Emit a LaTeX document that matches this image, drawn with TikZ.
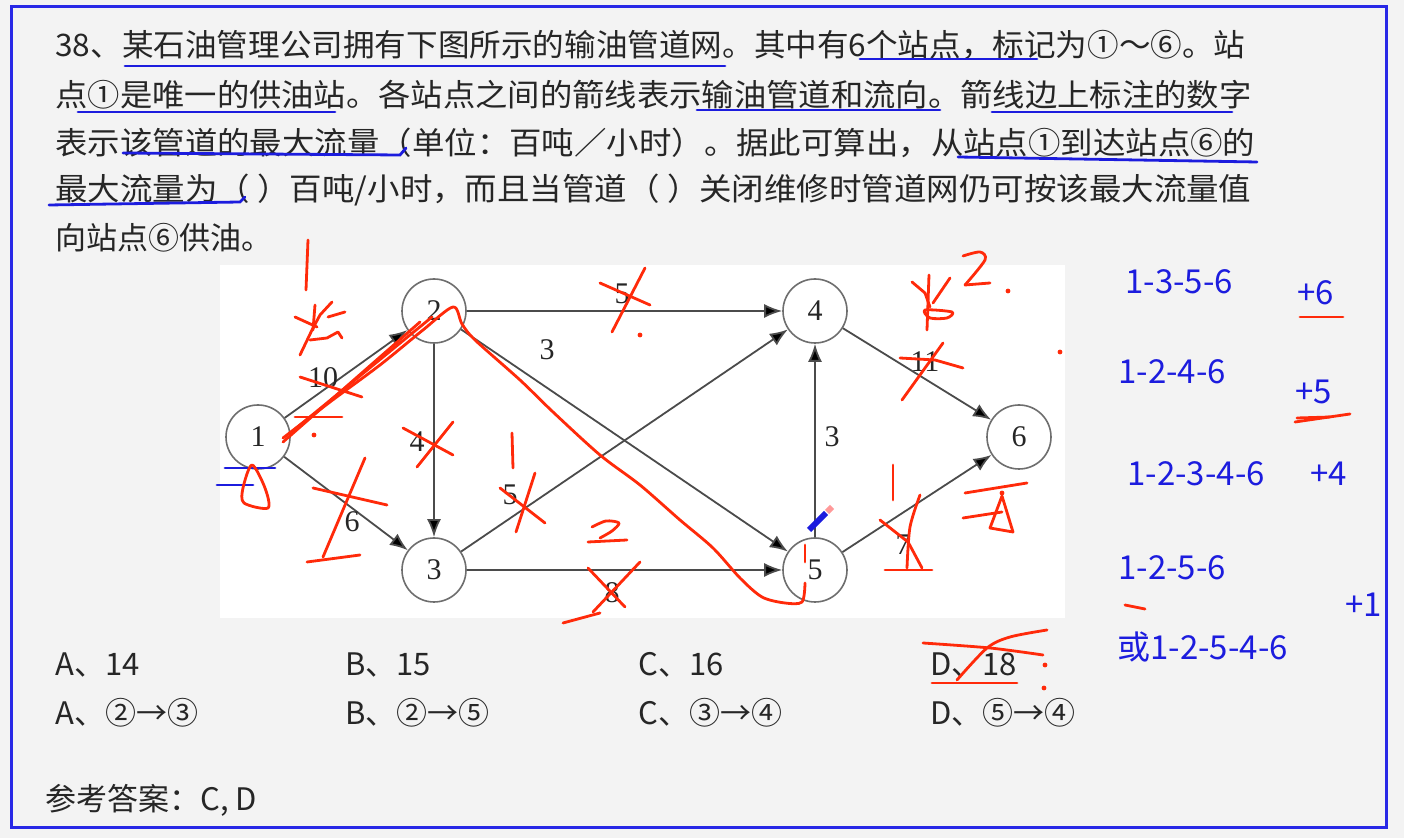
\documentclass[tikz,border=0pt]{standalone}
\usepackage{fontspec}
\usepackage{graphicx}
\setmainfont{Noto Sans CJK SC}
\newfontfamily\graphfont{Liberation Serif}
\usetikzlibrary{positioning, arrows.meta, calc}
\definecolor{cInk}{RGB}{38,38,38}
\definecolor{cPipe}{RGB}{75,75,75}
\definecolor{cRing}{RGB}{110,110,110}
\definecolor{cPaper}{RGB}{243,243,243}
\definecolor{cFrame}{RGB}{40,40,230}
\definecolor{cPen}{RGB}{255,42,10}
\definecolor{cMark}{RGB}{28,28,222}
\newcommand{\qrow}[2]{\resizebox{#1}{\height}{#2}}

\begin{document}
\begin{tikzpicture}[x=0.5pt, y=-0.5pt, >={Latex[length=9pt,width=7pt]},
  stn/.style={circle, draw=cRing, line width=0.8pt, fill=white, minimum size=32pt,
    inner sep=0pt, font=\graphfont\fontsize{15pt}{17pt}\selectfont, text=cInk},
  pipe/.style={draw=cPipe, line width=0.9pt, ->},
  wlbl/.style={inner sep=0pt, font=\graphfont\fontsize{15pt}{17pt}\selectfont, text=cInk},
  qline/.style={anchor=west, inner sep=0pt, font=\fontsize{15.5pt}{18pt}\selectfont, text=cInk},
  note/.style={anchor=west, inner sep=0pt, font=\fontsize{16.5pt}{19pt}\selectfont, text=cMark},
  pen/.style={draw=cPen, line width=1.4pt, line cap=round, line join=round},
  ublue/.style={draw=cMark, line width=1.4pt, line cap=round}]
   \useasboundingbox (0,0) rectangle (1404,838);
   \fill[cPaper] (0,0) rectangle (1404,838);
   \draw[cFrame, line width=1.5pt] (11,7) rectangle (1386,828);

   % Question text
   \node[qline] (q1) at (55,45) {\qrow{595pt}{38、某石油管理公司拥有下图所示的输油管道网。其中有6个站点，标记为①～⑥。站}};
   \node[qline] (q2) at (55,95) {\qrow{598pt}{点①是唯一的供油站。各站点之间的箭线表示输油管道和流向。箭线边上标注的数字}};
   \node[qline] (q3) at (55,143) {\qrow{600pt}{表示该管道的最大流量（单位：百吨／小时）。据此可算出，从站点①到达站点⑥的}};
   \node[qline] (q4) at (55,190) {\qrow{598pt}{最大流量为（ ）百吨/小时，而且当管道（ ）关闭维修时管道网仍可按该最大流量值}};
   \node[qline] (q5) at (55,238) {向站点⑥供油。};

   % Pipeline network
   \fill[white] (220,265) rectangle (1065,618);
   \node[stn] (n1) at (258,437) {1};
   \node[stn] (n2) at (434,311) {2};
   \node[stn] (n3) at (434,570) {3};
   \node[stn] (n4) at (815,311) {4};
   \node[stn] (n5) at (815,570) {5};
   \node[stn] (n6) at (1019,437) {6};

   \path[pipe]
   (n1) edge (n2)
   (n1) edge (n3)
   (n2) edge (n3)
   (n2) edge (n4)
   (n2) edge (n5)
   (n3) edge (n4)
   (n3) edge (n5)
   (n5) edge (n4)
   (n4) edge (n6)
   (n5) edge (n6);

   \node[wlbl] (w12) at (323,378) {10};
   \node[wlbl] (w13) at (352,522) {6};
   \node[wlbl] (w23) at (417,442) {4};
   \node[wlbl] (w24) at (622,294) {5};
   \node[wlbl] (w25) at (547,350) {3};
   \node[wlbl] (w34) at (510,495) {5};
   \node[wlbl] (w35) at (612,593) {8};
   \node[wlbl] (w54) at (832,437) {3};
   \node[wlbl] (w46) at (925,362) {11};
   \node[wlbl] (w56) at (903,545) {7};

   % Options and answer
   \node[qline] (oa) at (55,665) {A、14};
   \node[qline] (ob) at (345,665) {B、15};
   \node[qline] (oc) at (638,665) {C、16};
   \node[qline] (od) at (930,665) {D、18};
   \node[qline] (pa) at (55,713) {A、②→③};
   \node[qline] (pb) at (345,713) {B、②→⑤};
   \node[qline] (pc) at (638,713) {C、③→④};
   \node[qline] (pd) at (930,713) {D、⑤→④};
   \node[qline] (ans) at (45,800) {参考答案：C, D};

   % Paths written on the right
   \node[note] (r1) at (1125,282) {1-3-5-6};
   \node[note] (s1) at (1297,293) {+6};
   \node[note] (r2) at (1118,372) {1-2-4-6};
   \node[note] (s2) at (1295,392) {+5};
   \node[note] (r3) at (1127,474) {1-2-3-4-6};
   \node[note] (s3) at (1310,474) {+4};
   \node[note] (r4) at (1118,568) {1-2-5-6};
   \node[note] (s4) at (1345,605) {+1};
   \node[note] (r5) at (1117,647) {或1-2-5-4-6};

   % Blue underlines
   \draw[ublue] (125,66) -- (725,66);
   \draw[ublue] (860,59) -- (1037,59);
   \draw[ublue] (78,112) -- (335,112);
   \draw[ublue] (697,110) -- (940,110);
   \draw[ublue] (992,112) -- (1232,112);
   \draw[ublue] (123,153) -- (400,155) -- (406,148);
   \draw[ublue] (958,157) -- (1257,162);
   \draw[ublue] (49,205) -- (240,202) -- (245,197);
   \draw[ublue] (225,468) -- (275,468);
   \draw[ublue] (217,485) -- (253,485);

   % Red marks
   \draw[pen] plot[smooth] coordinates {(283,438) (330,402) (380,365) (423,330) (453,307)
     (462,324) (475,340) (520,380) (553,412) (600,455) (640,485) (680,520) (713,548)
     (740,578) (762,597) (785,603) (802,602) (805,583)};
   \draw[pen] (283,442) -- (420,322);
   \draw[pen] (289,434) -- (432,317);
   \draw[pen] (300,377) -- (362,397);
   \draw[pen] (295,417) -- (342,417);
   \draw[pen] (308,240) -- (306,290);
   \draw[pen] (295,317) -- (317,327);
   \draw[pen] (315,305) -- (313,330);
   \draw[pen] (332,302) -- (320,315) -- (312,330) -- (300,355);
   \draw[pen] (345,312) -- (328,317);
   \draw[pen] (310,340) -- (327,338) -- (338,332) -- (342,338);
   \draw[pen] plot[smooth cycle] coordinates {(252,465) (243,488) (244,503) (268,508) (265,488)};
   \draw[pen] (313,488) -- (387,505);
   \draw[pen] (365,458) -- (323,557);
   \draw[pen] (307,562) -- (360,555);
   \draw[pen] (403,428) -- (453,455);
   \draw[pen] (453,422) -- (417,467);
   \draw[pen] (512,433) -- (513,468);
   \draw[pen] (500,488) -- (545,523);
   \draw[pen] (535,473) -- (516,532);
   \draw[pen] plot[smooth] coordinates {(592,527) (606,521) (619,523) (612,531) (600,538)};
   \draw[pen] (588,542) -- (627,540);
   \draw[pen] (588,568) -- (625,607);
   \draw[pen] (640,562) -- (593,612);
   \draw[pen] (563,623) -- (600,613);
   \draw[pen] (645,268) -- (612,332);
   \draw[pen] (600,283) -- (650,305);
   \draw[pen] (900,358) -- (935,360) -- (963,368);
   \draw[pen] (943,343) -- (902,400);
   \draw[pen] (912,282) -- (925,293) -- (930,307);
   \draw[pen] (929,275) -- (927,330);
   \draw[pen] (950,278) -- (933,303);
   \draw[pen] plot[smooth cycle] coordinates {(925,310) (952,312) (947,318) (930,318)};
   \draw[pen] plot[smooth] coordinates {(963,256) (980,252) (985,260) (965,285)};
   \draw[pen] (965,285) -- (990,283);
   \draw[pen] (893,465) -- (893,500);
   \draw[pen] (880,520) -- (908,542);
   \draw[pen] plot[smooth] coordinates {(920,495) (910,527) (907,568)};
   \draw[pen] (907,540) -- (922,568);
   \draw[pen] (885,570) -- (932,570);
   \draw[pen] (965,493) -- (1027,483);
   \draw[pen] (963,518) -- (1002,512);
   \draw[pen] (1002,496) -- (990,528) -- (1013,532) -- cycle;
   \draw[pen] (805,545) -- (805,562);
   \draw[pen] plot[smooth] coordinates {(923,643) (990,648) (1043,655)};
   \draw[pen] plot[smooth] coordinates {(957,680) (987,648) (1010,637) (1047,630)};
   \draw[pen] (932,683) -- (1017,683);
   \draw[pen] (1300,317) -- (1343,317);
   \draw[pen] (1295,422) -- (1350,414);
   \draw[pen] (1297,418) -- (1330,417);
   \draw[pen] (1125,605) -- (1145,609);
   \foreach \dx/\dy in {314/435, 640/335, 1008/291, 1060/352, 1002/493, 1045/665, 1044/688}
     \fill[cPen] (\dx,\dy) circle (1.2pt);

   % Pencil cursor
   \draw[cMark, line width=3pt] (809,530) -- (826,513);
   \draw[pink!80!red, line width=3pt] (827,512) -- (832,507);
\end{tikzpicture}
\end{document}
